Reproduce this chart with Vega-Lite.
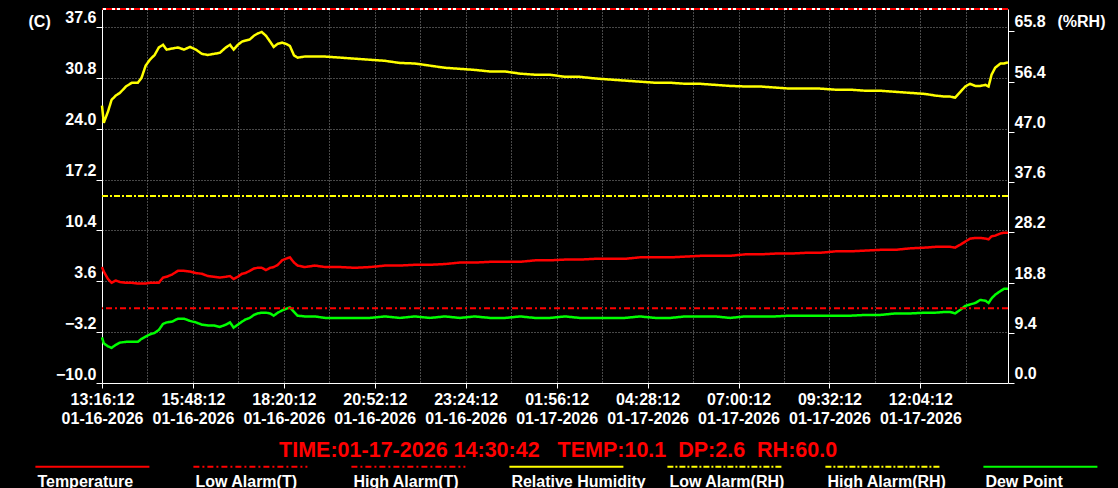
{
  "$schema": "https://vega.github.io/schema/vega-lite/v6.json",
  "width": 906,
  "height": 374,
  "autosize": {"type": "none"},
  "padding": {"left": 102, "top": 9, "right": 110, "bottom": 105},
  "background": "black",
  "config": {"view": {"stroke": null}, "font": "Liberation Sans"},
  "datasets": {
    "readings": [
      {"t": "2026-01-16T13:16:12", "Temperature": 5.5, "Dew Point": -3.9, "Relative Humidity": 51.9},
      {"t": "2026-01-16T13:19:12", "Temperature": 4.9, "Dew Point": -4.7, "Relative Humidity": 48.7},
      {"t": "2026-01-16T13:26:12", "Temperature": 3.9, "Dew Point": -5.1, "Relative Humidity": 50.8},
      {"t": "2026-01-16T13:32:12", "Temperature": 3.4, "Dew Point": -5.3, "Relative Humidity": 53.0},
      {"t": "2026-01-16T13:39:12", "Temperature": 3.7, "Dew Point": -4.9, "Relative Humidity": 53.8},
      {"t": "2026-01-16T13:46:12", "Temperature": 3.5, "Dew Point": -4.6, "Relative Humidity": 54.3},
      {"t": "2026-01-16T13:56:12", "Temperature": 3.4, "Dew Point": -4.5, "Relative Humidity": 55.5},
      {"t": "2026-01-16T14:06:12", "Temperature": 3.4, "Dew Point": -4.5, "Relative Humidity": 56.2},
      {"t": "2026-01-16T14:16:12", "Temperature": 3.3, "Dew Point": -4.5, "Relative Humidity": 56.2},
      {"t": "2026-01-16T14:22:12", "Temperature": 3.3, "Dew Point": -4.1, "Relative Humidity": 57.1},
      {"t": "2026-01-16T14:29:12", "Temperature": 3.3, "Dew Point": -3.8, "Relative Humidity": 59.4},
      {"t": "2026-01-16T14:36:12", "Temperature": 3.4, "Dew Point": -3.5, "Relative Humidity": 60.5},
      {"t": "2026-01-16T14:44:12", "Temperature": 3.4, "Dew Point": -3.3, "Relative Humidity": 61.4},
      {"t": "2026-01-16T14:51:12", "Temperature": 3.4, "Dew Point": -2.9, "Relative Humidity": 62.8},
      {"t": "2026-01-16T14:58:12", "Temperature": 4.1, "Dew Point": -2.1, "Relative Humidity": 63.3},
      {"t": "2026-01-16T15:04:12", "Temperature": 4.2, "Dew Point": -1.9, "Relative Humidity": 62.4},
      {"t": "2026-01-16T15:13:12", "Temperature": 4.5, "Dew Point": -1.8, "Relative Humidity": 62.6},
      {"t": "2026-01-16T15:23:12", "Temperature": 5.0, "Dew Point": -1.4, "Relative Humidity": 62.8},
      {"t": "2026-01-16T15:33:12", "Temperature": 5.0, "Dew Point": -1.4, "Relative Humidity": 62.4},
      {"t": "2026-01-16T15:43:12", "Temperature": 4.9, "Dew Point": -1.7, "Relative Humidity": 62.9},
      {"t": "2026-01-16T15:53:12", "Temperature": 4.7, "Dew Point": -1.9, "Relative Humidity": 62.4},
      {"t": "2026-01-16T16:03:12", "Temperature": 4.6, "Dew Point": -2.2, "Relative Humidity": 61.6},
      {"t": "2026-01-16T16:13:12", "Temperature": 4.3, "Dew Point": -2.3, "Relative Humidity": 61.4},
      {"t": "2026-01-16T16:23:12", "Temperature": 4.2, "Dew Point": -2.3, "Relative Humidity": 61.6},
      {"t": "2026-01-16T16:33:12", "Temperature": 4.1, "Dew Point": -2.5, "Relative Humidity": 61.8},
      {"t": "2026-01-16T16:43:12", "Temperature": 4.2, "Dew Point": -2.2, "Relative Humidity": 62.8},
      {"t": "2026-01-16T16:50:12", "Temperature": 4.3, "Dew Point": -1.9, "Relative Humidity": 63.3},
      {"t": "2026-01-16T16:56:12", "Temperature": 3.9, "Dew Point": -2.6, "Relative Humidity": 62.4},
      {"t": "2026-01-16T17:03:12", "Temperature": 4.2, "Dew Point": -2.2, "Relative Humidity": 63.3},
      {"t": "2026-01-16T17:10:12", "Temperature": 4.6, "Dew Point": -1.8, "Relative Humidity": 63.9},
      {"t": "2026-01-16T17:16:12", "Temperature": 4.7, "Dew Point": -1.5, "Relative Humidity": 64.1},
      {"t": "2026-01-16T17:23:12", "Temperature": 5.0, "Dew Point": -1.3, "Relative Humidity": 64.3},
      {"t": "2026-01-16T17:30:12", "Temperature": 5.3, "Dew Point": -0.9, "Relative Humidity": 65.0},
      {"t": "2026-01-16T17:36:12", "Temperature": 5.4, "Dew Point": -0.7, "Relative Humidity": 65.4},
      {"t": "2026-01-16T17:43:12", "Temperature": 5.4, "Dew Point": -0.6, "Relative Humidity": 65.7},
      {"t": "2026-01-16T17:50:12", "Temperature": 5.1, "Dew Point": -0.6, "Relative Humidity": 65.0},
      {"t": "2026-01-16T17:57:12", "Temperature": 5.4, "Dew Point": -0.7, "Relative Humidity": 63.9},
      {"t": "2026-01-16T18:03:12", "Temperature": 5.5, "Dew Point": -1.0, "Relative Humidity": 62.9},
      {"t": "2026-01-16T18:10:12", "Temperature": 5.8, "Dew Point": -0.6, "Relative Humidity": 63.5},
      {"t": "2026-01-16T18:17:12", "Temperature": 6.4, "Dew Point": -0.3, "Relative Humidity": 63.7},
      {"t": "2026-01-16T18:23:12", "Temperature": 6.6, "Dew Point": -0.1, "Relative Humidity": 63.5},
      {"t": "2026-01-16T18:30:12", "Temperature": 6.8, "Dew Point": 0.1, "Relative Humidity": 63.1},
      {"t": "2026-01-16T18:37:12", "Temperature": 6.1, "Dew Point": -0.5, "Relative Humidity": 61.3},
      {"t": "2026-01-16T18:43:12", "Temperature": 5.7, "Dew Point": -1.0, "Relative Humidity": 60.9},
      {"t": "2026-01-16T18:55:12", "Temperature": 5.5, "Dew Point": -1.1, "Relative Humidity": 61.1},
      {"t": "2026-01-16T19:12:12", "Temperature": 5.7, "Dew Point": -1.1, "Relative Humidity": 61.1},
      {"t": "2026-01-16T19:29:12", "Temperature": 5.5, "Dew Point": -1.3, "Relative Humidity": 61.1},
      {"t": "2026-01-16T19:54:12", "Temperature": 5.5, "Dew Point": -1.3, "Relative Humidity": 60.9},
      {"t": "2026-01-16T20:19:12", "Temperature": 5.4, "Dew Point": -1.3, "Relative Humidity": 60.7},
      {"t": "2026-01-16T20:44:12", "Temperature": 5.5, "Dew Point": -1.3, "Relative Humidity": 60.5},
      {"t": "2026-01-16T21:09:12", "Temperature": 5.7, "Dew Point": -1.1, "Relative Humidity": 60.3},
      {"t": "2026-01-16T21:34:12", "Temperature": 5.7, "Dew Point": -1.3, "Relative Humidity": 59.9},
      {"t": "2026-01-16T21:59:12", "Temperature": 5.8, "Dew Point": -1.1, "Relative Humidity": 59.8},
      {"t": "2026-01-16T22:24:12", "Temperature": 5.8, "Dew Point": -1.3, "Relative Humidity": 59.4},
      {"t": "2026-01-16T22:49:12", "Temperature": 5.9, "Dew Point": -1.1, "Relative Humidity": 59.0},
      {"t": "2026-01-16T23:14:12", "Temperature": 6.1, "Dew Point": -1.3, "Relative Humidity": 58.8},
      {"t": "2026-01-16T23:39:12", "Temperature": 6.1, "Dew Point": -1.1, "Relative Humidity": 58.6},
      {"t": "2026-01-17T00:05:12", "Temperature": 6.2, "Dew Point": -1.3, "Relative Humidity": 58.3},
      {"t": "2026-01-17T00:30:12", "Temperature": 6.2, "Dew Point": -1.3, "Relative Humidity": 58.3},
      {"t": "2026-01-17T00:55:12", "Temperature": 6.2, "Dew Point": -1.1, "Relative Humidity": 57.9},
      {"t": "2026-01-17T01:20:12", "Temperature": 6.4, "Dew Point": -1.3, "Relative Humidity": 57.7},
      {"t": "2026-01-17T01:45:12", "Temperature": 6.4, "Dew Point": -1.3, "Relative Humidity": 57.7},
      {"t": "2026-01-17T02:10:12", "Temperature": 6.5, "Dew Point": -1.1, "Relative Humidity": 57.3},
      {"t": "2026-01-17T02:35:12", "Temperature": 6.5, "Dew Point": -1.3, "Relative Humidity": 57.3},
      {"t": "2026-01-17T03:00:12", "Temperature": 6.6, "Dew Point": -1.3, "Relative Humidity": 57.0},
      {"t": "2026-01-17T03:25:12", "Temperature": 6.6, "Dew Point": -1.3, "Relative Humidity": 56.8},
      {"t": "2026-01-17T03:50:12", "Temperature": 6.6, "Dew Point": -1.3, "Relative Humidity": 56.6},
      {"t": "2026-01-17T04:15:12", "Temperature": 6.8, "Dew Point": -1.1, "Relative Humidity": 56.4},
      {"t": "2026-01-17T04:41:12", "Temperature": 6.8, "Dew Point": -1.3, "Relative Humidity": 56.2},
      {"t": "2026-01-17T05:06:12", "Temperature": 6.8, "Dew Point": -1.3, "Relative Humidity": 56.2},
      {"t": "2026-01-17T05:31:12", "Temperature": 6.9, "Dew Point": -1.1, "Relative Humidity": 56.0},
      {"t": "2026-01-17T05:56:12", "Temperature": 7.0, "Dew Point": -1.1, "Relative Humidity": 56.0},
      {"t": "2026-01-17T06:21:12", "Temperature": 7.0, "Dew Point": -1.1, "Relative Humidity": 55.8},
      {"t": "2026-01-17T06:46:12", "Temperature": 7.0, "Dew Point": -1.3, "Relative Humidity": 55.6},
      {"t": "2026-01-17T07:11:12", "Temperature": 7.2, "Dew Point": -1.1, "Relative Humidity": 55.5},
      {"t": "2026-01-17T07:36:12", "Temperature": 7.2, "Dew Point": -1.1, "Relative Humidity": 55.5},
      {"t": "2026-01-17T08:01:12", "Temperature": 7.3, "Dew Point": -1.1, "Relative Humidity": 55.3},
      {"t": "2026-01-17T08:26:12", "Temperature": 7.3, "Dew Point": -1.0, "Relative Humidity": 55.1},
      {"t": "2026-01-17T08:51:12", "Temperature": 7.4, "Dew Point": -1.0, "Relative Humidity": 55.1},
      {"t": "2026-01-17T09:16:12", "Temperature": 7.4, "Dew Point": -1.0, "Relative Humidity": 55.1},
      {"t": "2026-01-17T09:42:12", "Temperature": 7.6, "Dew Point": -1.0, "Relative Humidity": 54.9},
      {"t": "2026-01-17T10:07:12", "Temperature": 7.6, "Dew Point": -1.0, "Relative Humidity": 54.9},
      {"t": "2026-01-17T10:32:12", "Temperature": 7.7, "Dew Point": -0.9, "Relative Humidity": 54.7},
      {"t": "2026-01-17T10:57:12", "Temperature": 7.8, "Dew Point": -0.9, "Relative Humidity": 54.7},
      {"t": "2026-01-17T11:22:12", "Temperature": 7.8, "Dew Point": -0.7, "Relative Humidity": 54.5},
      {"t": "2026-01-17T11:47:12", "Temperature": 8.0, "Dew Point": -0.7, "Relative Humidity": 54.3},
      {"t": "2026-01-17T12:12:12", "Temperature": 8.1, "Dew Point": -0.6, "Relative Humidity": 54.1},
      {"t": "2026-01-17T12:29:12", "Temperature": 8.2, "Dew Point": -0.6, "Relative Humidity": 53.8},
      {"t": "2026-01-17T12:46:12", "Temperature": 8.2, "Dew Point": -0.5, "Relative Humidity": 53.6},
      {"t": "2026-01-17T12:54:12", "Temperature": 8.2, "Dew Point": -0.5, "Relative Humidity": 53.6},
      {"t": "2026-01-17T13:02:12", "Temperature": 8.1, "Dew Point": -0.7, "Relative Humidity": 53.4},
      {"t": "2026-01-17T13:11:12", "Temperature": 8.5, "Dew Point": -0.2, "Relative Humidity": 54.5},
      {"t": "2026-01-17T13:19:12", "Temperature": 8.9, "Dew Point": 0.3, "Relative Humidity": 55.5},
      {"t": "2026-01-17T13:27:12", "Temperature": 9.3, "Dew Point": 0.5, "Relative Humidity": 56.0},
      {"t": "2026-01-17T13:36:12", "Temperature": 9.4, "Dew Point": 0.7, "Relative Humidity": 55.6},
      {"t": "2026-01-17T13:44:12", "Temperature": 9.4, "Dew Point": 1.1, "Relative Humidity": 55.6},
      {"t": "2026-01-17T13:53:12", "Temperature": 9.3, "Dew Point": 1.0, "Relative Humidity": 55.8},
      {"t": "2026-01-17T13:58:12", "Temperature": 9.2, "Dew Point": 0.7, "Relative Humidity": 55.5},
      {"t": "2026-01-17T14:03:12", "Temperature": 9.6, "Dew Point": 1.3, "Relative Humidity": 57.7},
      {"t": "2026-01-17T14:09:12", "Temperature": 9.7, "Dew Point": 1.8, "Relative Humidity": 59.0},
      {"t": "2026-01-17T14:18:12", "Temperature": 10.0, "Dew Point": 2.3, "Relative Humidity": 59.8},
      {"t": "2026-01-17T14:24:12", "Temperature": 10.1, "Dew Point": 2.6, "Relative Humidity": 59.8},
      {"t": "2026-01-17T14:30:42", "Temperature": 10.1, "Dew Point": 2.6, "Relative Humidity": 60.0}
    ],
    "alarms": [
      {"series": "Low Alarm(T)", "axis": "T", "value": 0},
      {"series": "High Alarm(T)", "axis": "T", "value": 40},
      {"series": "Low Alarm(RH)", "axis": "RH", "value": 35},
      {"series": "High Alarm(RH)", "axis": "RH", "value": 70}
    ]
  },
  "layer": [
    {
      "layer": [
        {
          "data": {"name": "readings"},
          "transform": [{"fold": ["Relative Humidity"], "as": ["series", "value"]}],
          "mark": {"type": "line", "strokeWidth": 2.5},
          "encoding": {
            "x": {
              "field": "t",
              "type": "temporal",
              "scale": {
                "domain": [
                  {"year": 2026, "month": 1, "date": 16, "hours": 13, "minutes": 16, "seconds": 12},
                  {"year": 2026, "month": 1, "date": 17, "hours": 14, "minutes": 30, "seconds": 42}
                ],
                "nice": false
              },
              "axis": {
                "orient": "bottom",
                "values": [
                  {"year": 2026, "month": 1, "date": 16, "hours": 13, "minutes": 16, "seconds": 12},
                  {"year": 2026, "month": 1, "date": 16, "hours": 14, "minutes": 32, "seconds": 12},
                  {"year": 2026, "month": 1, "date": 16, "hours": 15, "minutes": 48, "seconds": 12},
                  {"year": 2026, "month": 1, "date": 16, "hours": 17, "minutes": 4, "seconds": 12},
                  {"year": 2026, "month": 1, "date": 16, "hours": 18, "minutes": 20, "seconds": 12},
                  {"year": 2026, "month": 1, "date": 16, "hours": 19, "minutes": 36, "seconds": 12},
                  {"year": 2026, "month": 1, "date": 16, "hours": 20, "minutes": 52, "seconds": 12},
                  {"year": 2026, "month": 1, "date": 16, "hours": 22, "minutes": 8, "seconds": 12},
                  {"year": 2026, "month": 1, "date": 16, "hours": 23, "minutes": 24, "seconds": 12},
                  {"year": 2026, "month": 1, "date": 17, "hours": 0, "minutes": 40, "seconds": 12},
                  {"year": 2026, "month": 1, "date": 17, "hours": 1, "minutes": 56, "seconds": 12},
                  {"year": 2026, "month": 1, "date": 17, "hours": 3, "minutes": 12, "seconds": 12},
                  {"year": 2026, "month": 1, "date": 17, "hours": 4, "minutes": 28, "seconds": 12},
                  {"year": 2026, "month": 1, "date": 17, "hours": 5, "minutes": 44, "seconds": 12},
                  {"year": 2026, "month": 1, "date": 17, "hours": 7, "minutes": 0, "seconds": 12},
                  {"year": 2026, "month": 1, "date": 17, "hours": 8, "minutes": 16, "seconds": 12},
                  {"year": 2026, "month": 1, "date": 17, "hours": 9, "minutes": 32, "seconds": 12},
                  {"year": 2026, "month": 1, "date": 17, "hours": 10, "minutes": 48, "seconds": 12},
                  {"year": 2026, "month": 1, "date": 17, "hours": 12, "minutes": 4, "seconds": 12},
                  {"year": 2026, "month": 1, "date": 17, "hours": 13, "minutes": 20, "seconds": 12}
                ],
                "labelExpr": "round((datum.value - datetime(2026,0,16,13,16,12))/4560000) % 2 == 0 ? [timeFormat(datum.value, '%H:%M:%S'), timeFormat(datum.value, '%m-%d-%Y')] : ''",
                "tickOpacity": {"condition": {"test": "round((datum.value - datetime(2026,0,16,13,16,12))/4560000) % 2 == 0", "value": 1}, "value": 0},
                "tickSize": 5,
                "tickColor": "white",
                "domainColor": "white",
                "labelColor": "white",
                "labelFont": "Liberation Sans",
                "labelFontSize": 16,
                "labelFontWeight": "bold",
                "labelPadding": 3,
                "labelLineHeight": 19,
                "labelBaseline": "top",
                "labelAlign": "center",
                "labelOverlap": false,
                "labelFlush": false,
                "labelBound": false,
                "grid": true,
                "gridColor": "#909090",
                "gridDash": [1, 2],
                "gridWidth": 1,
                "title": "TIME:01-17-2026 14:30:42\u00a0\u00a0\u00a0TEMP:10.1\u00a0\u00a0DP:2.6\u00a0\u00a0RH:60.0",
                "titleColor": "#ff0000",
                "titleFont": "Liberation Sans",
                "titleFontSize": 21.5,
                "titleFontWeight": "bold",
                "titleX": 176.6,
                "titleY": 73,
                "titleAlign": "left",
                "titleBaseline": "alphabetic"
              }
            },
            "y": {
              "field": "value",
              "type": "quantitative",
              "scale": {"domain": [0, 70], "nice": false, "zero": false},
              "axis": {
                "orient": "right",
                "values": [0, 9.4, 18.8, 28.2, 37.6, 47.0, 56.4, 65.8],
                "format": ".1f",
                "grid": false,
                "tickSize": 6,
                "tickColor": "white",
                "domainColor": "white",
                "labelColor": "white",
                "labelFont": "Liberation Sans",
                "labelFontSize": 16,
                "labelFontWeight": "bold",
                "labelPadding": 0,
                "labelOffset": -4.5,
                "labelBaseline": "alphabetic",
                "labelAlign": "left",
                "labelOverlap": false,
                "labelFlush": false,
                "labelBound": false,
                "title": "(%RH)",
                "titleColor": "white",
                "titleFont": "Liberation Sans",
                "titleFontSize": 16,
                "titleFontWeight": "bold",
                "titleAngle": 0,
                "titleX": 49,
                "titleY": 17,
                "titleAlign": "left",
                "titleBaseline": "alphabetic"
              }
            },
            "color": {
              "field": "series",
              "type": "nominal",
              "scale": {
                "domain": ["Temperature", "Low Alarm(T)", "High Alarm(T)", "Relative Humidity", "Low Alarm(RH)", "High Alarm(RH)", "Dew Point"],
                "range": ["#ff0000", "#ff0000", "#ff0000", "#ffff00", "#ffff00", "#ffff00", "#00ff00"]
              },
              "legend": {
                "orient": "none",
                "legendX": -67.6,
                "legendY": 420.2,
                "direction": "horizontal",
                "columns": 7,
                "gridAlign": "all",
                "title": null,
                "symbolType": "M-1,-0.36H1",
                "symbolSize": 12996,
                "symbolStrokeWidth": 2,
                "labelColor": "white",
                "labelFont": "Liberation Sans",
                "labelFontSize": 16,
                "labelFontWeight": "bold",
                "labelOffset": -113,
                "labelBaseline": "alphabetic",
                "labelLimit": 300,
                "columnPadding": 17,
                "padding": 0,
                "offset": 0
              }
            },
            "strokeDash": {
              "field": "series",
              "type": "nominal",
              "scale": {
                "domain": ["Temperature", "Low Alarm(T)", "High Alarm(T)", "Relative Humidity", "Low Alarm(RH)", "High Alarm(RH)", "Dew Point"],
                "range": [[1, 0], [6, 3, 2, 3], [6, 3, 2, 3], [1, 0], [6, 2, 2, 2], [6, 2, 2, 2], [1, 0]]
              }
            }
          }
        },
        {
          "data": {"name": "alarms"},
          "transform": [{"filter": "datum.axis == 'RH'"}],
          "mark": {"type": "rule", "strokeWidth": 2},
          "encoding": {
            "y": {"field": "value", "type": "quantitative"},
            "color": {"field": "series", "type": "nominal"},
            "strokeDash": {"field": "series", "type": "nominal"}
          }
        }
      ]
    },
    {
      "layer": [
        {
          "data": {"name": "readings"},
          "transform": [{"fold": ["Temperature", "Dew Point"], "as": ["series", "value"]}],
          "mark": {"type": "line", "strokeWidth": 2.5},
          "encoding": {
            "x": {"field": "t", "type": "temporal"},
            "y": {
              "field": "value",
              "type": "quantitative",
              "scale": {"domain": [-10, 40], "nice": false, "zero": false},
              "axis": {
                "orient": "left",
                "values": [-10, -6.6, -3.2, 0.2, 3.6, 7.0, 10.4, 13.8, 17.2, 20.6, 24.0, 27.4, 30.8, 34.2, 37.6],
                "labelExpr": "round((datum.value + 10) / 3.4) % 2 == 0 ? format(datum.value, '.1f') : ''",
                "tickOpacity": {"condition": {"test": "round((datum.value + 10) / 3.4) % 2 == 0", "value": 1}, "value": 0},
                "tickSize": 6,
                "tickColor": "white",
                "domainColor": "white",
                "grid": true,
                "gridColor": "#909090",
                "gridDash": [1, 2],
                "gridWidth": 1,
                "labelColor": "white",
                "labelFont": "Liberation Sans",
                "labelFontSize": 16,
                "labelFontWeight": "bold",
                "labelPadding": 0,
                "labelOffset": -4,
                "labelBaseline": "alphabetic",
                "labelAlign": "right",
                "labelOverlap": false,
                "labelFlush": false,
                "labelBound": false,
                "title": "(C)",
                "titleColor": "white",
                "titleFont": "Liberation Sans",
                "titleFontSize": 16,
                "titleFontWeight": "bold",
                "titleAngle": 0,
                "titleX": -74,
                "titleY": 17,
                "titleAlign": "left",
                "titleBaseline": "alphabetic"
              }
            },
            "color": {"field": "series", "type": "nominal"},
            "strokeDash": {"field": "series", "type": "nominal"}
          }
        },
        {
          "data": {"values": [{}]},
          "mark": {"type": "rule", "color": "white", "strokeWidth": 2},
          "encoding": {"y": {"datum": 40}}
        },
        {
          "data": {"name": "alarms"},
          "transform": [{"filter": "datum.axis == 'T'"}],
          "mark": {"type": "rule", "strokeWidth": 2},
          "encoding": {
            "y": {"field": "value", "type": "quantitative"},
            "color": {"field": "series", "type": "nominal"},
            "strokeDash": {"field": "series", "type": "nominal"}
          }
        }
      ]
    }
  ],
  "resolve": {"scale": {"y": "independent"}}
}
